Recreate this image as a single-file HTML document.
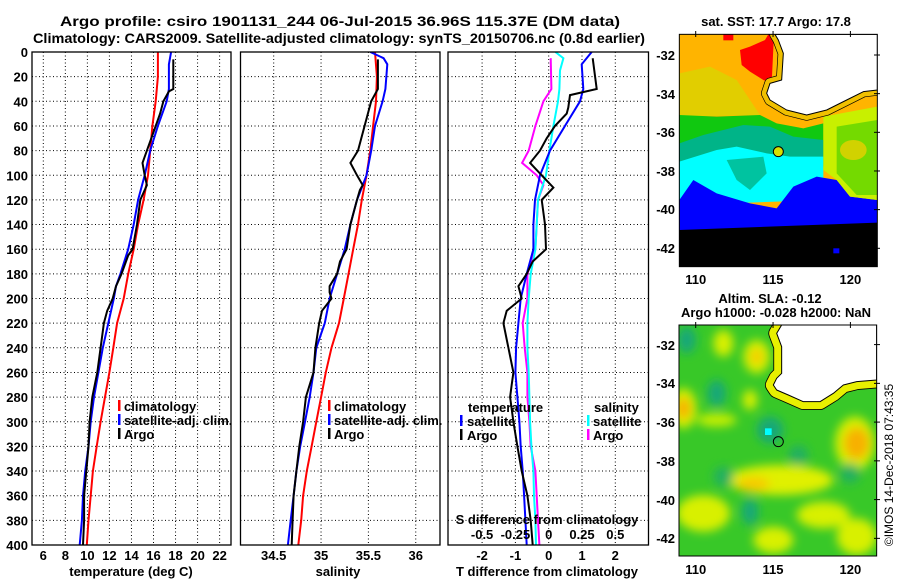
<!DOCTYPE html>
<html><head><meta charset="utf-8"><style>
html,body{margin:0;padding:0;background:#fff;}
svg{display:block;font-family:"Liberation Sans",sans-serif;font-weight:bold;}
</style></head><body>
<svg id="fig" width="900" height="580" viewBox="0 0 900 580" xmlns="http://www.w3.org/2000/svg">
<defs>
<clipPath id="c1"><rect x="32" y="52" width="199" height="493"/></clipPath>
<clipPath id="c2"><rect x="240.5" y="52" width="199.5" height="493"/></clipPath>
<clipPath id="c3"><rect x="448" y="52" width="200.5" height="493"/></clipPath>
<clipPath id="cm1"><rect x="88" y="103" width="594" height="697"/></clipPath>
<clipPath id="cm2"><rect x="27" y="15" width="593" height="693"/></clipPath>
<filter id="blur" x="-50%" y="-50%" width="200%" height="200%"><feGaussianBlur stdDeviation="14"/></filter>
</defs>
<g font-size="14" text-anchor="middle">
<text x="340" y="26" textLength="560" lengthAdjust="spacingAndGlyphs">Argo profile: csiro 1901131_244 06-Jul-2015 36.96S 115.37E (DM data)</text>
<text x="339" y="43" textLength="612" lengthAdjust="spacingAndGlyphs">Climatology: CARS2009. Satellite-adjusted climatology: synTS_20150706.nc (0.8d earlier)</text>
</g>
<g id="grids"></g>
<g id="series"></g>
<g id="frames"></g>
<g id="labels" font-size="13"></g>

<g font-size="13">
<rect x="118" y="400" width="2.5" height="11" fill="#f00"/><text x="124" y="411">climatology</text>
<rect x="118" y="414" width="2.5" height="11" fill="#00f"/><text x="124" y="425">satellite-adj. clim.</text>
<rect x="118" y="428" width="2.5" height="11" fill="#000"/><text x="124" y="439">Argo</text>
</g>
<g font-size="13">
<rect x="328" y="400" width="2.5" height="11" fill="#f00"/><text x="334" y="411">climatology</text>
<rect x="328" y="414" width="2.5" height="11" fill="#00f"/><text x="334" y="425">satellite-adj. clim.</text>
<rect x="328" y="428" width="2.5" height="11" fill="#000"/><text x="334" y="439">Argo</text>
</g>
<g font-size="13">
<text x="468" y="412">temperature</text>
<rect x="460" y="415" width="2.5" height="11" fill="#00f"/><text x="467" y="426">satellite</text>
<rect x="460" y="429" width="2.5" height="11" fill="#000"/><text x="467" y="440">Argo</text>
<text x="594" y="412">salinity</text>
<rect x="587" y="415" width="2.5" height="11" fill="#0ff"/><text x="593" y="426">satellite</text>
<rect x="587" y="429" width="2.5" height="11" fill="#f0f"/><text x="593" y="440">Argo</text>
</g>

<!-- SST map -->
<g>
<text x="776" y="26" font-size="13" text-anchor="middle">sat. SST: 17.7 Argo: 17.8</text>
<g transform="translate(650,0) scale(0.33333)">
<g clip-path="url(#cm1)">
<rect x="88" y="103" width="594" height="697" fill="#ffb400"/>
<polygon points="88,220 180,200 260,240 300,300 330,345 88,350" fill="#c8e400" opacity="0.55"/>
<polygon points="270,150 300,140 345,120 355,103 372,103 365,250 340,240 300,215 275,195" fill="#ff0000"/>
<rect x="220" y="103" width="30" height="18" fill="#ff0000"/>
<polygon points="88,345 200,350 330,345 380,370 460,385 520,370 520,470 88,480" fill="#10c810"/>
<polygon points="88,430 160,405 280,375 360,380 430,410 520,420 520,500 88,490" fill="#00b488"/>
<polygon points="88,485 200,450 260,440 350,460 420,470 520,470 520,600 88,615" fill="#00ffff"/>
<polygon points="230,480 340,470 350,520 300,570 260,540" fill="#00b488" opacity="0.8"/>
<polygon points="88,600 130,540 200,580 300,610 380,625 430,560 500,530 560,540 600,590 682,600 682,700 88,700" fill="#0000ff"/>
<polygon points="520,350 682,320 682,600 600,590 560,540 520,510" fill="#c8f000"/>
<polygon points="560,380 682,360 682,585 620,585 560,520" fill="#30c800" opacity="0.55"/>
<ellipse cx="610" cy="450" rx="40" ry="30" fill="#e8d000" opacity="0.8"/>
<polygon points="88,690 682,668 682,800 88,800" fill="#000"/>
<rect x="550" y="745" width="18" height="15" fill="#0000ff"/>
<polygon points="375,103 682,103 682,270 640,275 590,300 530,330 470,345 410,330 360,300 350,280 360,250 395,240 400,160 385,120" fill="none" stroke="#000" stroke-width="34" stroke-linejoin="round"/>
<polygon points="375,103 682,103 682,270 640,275 590,300 530,330 470,345 410,330 360,300 350,280 360,250 395,240 400,160 385,120" fill="#fff" stroke="#f0c000" stroke-width="30" stroke-linejoin="round"/>
<polygon points="375,103 682,103 682,270 640,275 590,300 530,330 470,345 410,330 360,300 350,280 360,250 395,240 400,160 385,120" fill="#fff" stroke="#000" stroke-width="3" stroke-linejoin="round"/>
<circle cx="385" cy="455" r="15" fill="#d8e000" stroke="#000" stroke-width="3"/>
</g>
<rect x="88" y="103" width="594" height="697" fill="none" stroke="#000" stroke-width="3"/>
</g>
</g>

<!-- SLA map -->
<g>
<text x="770" y="303" font-size="13" text-anchor="middle">Altim. SLA: -0.12</text>
<text x="776" y="317" font-size="13" text-anchor="middle">Argo h1000: -0.028 h2000: NaN</text>
<g transform="translate(670,320) scale(0.33333)">
<g clip-path="url(#cm2)">
<rect x="27" y="15" width="593" height="693" fill="#38c828"/>
<g filter="url(#blur)">
<ellipse cx="160" cy="70" rx="30" ry="40" fill="#d8f000"/>
<ellipse cx="260" cy="110" rx="40" ry="50" fill="#d8f000"/>
<ellipse cx="260" cy="110" rx="18" ry="22" fill="#f8c800"/>
<ellipse cx="240" cy="240" rx="22" ry="30" fill="#d8f000"/>
<ellipse cx="40" cy="265" rx="40" ry="60" fill="#d8f000"/>
<ellipse cx="40" cy="265" rx="22" ry="32" fill="#f8b000"/>
<ellipse cx="140" cy="300" rx="60" ry="20" fill="#c8f000"/>
<ellipse cx="555" cy="370" rx="60" ry="80" fill="#d8f000"/>
<ellipse cx="560" cy="370" rx="38" ry="48" fill="#f8b000"/>
<ellipse cx="330" cy="480" rx="160" ry="45" fill="#e0f000"/>
<ellipse cx="250" cy="492" rx="50" ry="20" fill="#f8c800"/>
<ellipse cx="100" cy="580" rx="80" ry="55" fill="#d8f000"/>
<ellipse cx="460" cy="585" rx="80" ry="40" fill="#d8f000"/>
<ellipse cx="560" cy="650" rx="60" ry="55" fill="#d8f000"/>
<ellipse cx="310" cy="660" rx="60" ry="40" fill="#d8f000"/>
<ellipse cx="50" cy="60" rx="28" ry="40" fill="#18a878"/>
<ellipse cx="140" cy="220" rx="28" ry="40" fill="#18a878"/>
<ellipse cx="300" cy="330" rx="40" ry="40" fill="#18a878"/>
<ellipse cx="240" cy="575" rx="25" ry="40" fill="#18a878"/>
<ellipse cx="385" cy="405" rx="30" ry="30" fill="#20b060"/>
<ellipse cx="540" cy="460" rx="30" ry="30" fill="#20b060"/>
<ellipse cx="160" cy="470" rx="30" ry="30" fill="#20b060"/>
</g>
<rect x="285" y="325" width="20" height="20" fill="#00ffff"/>
<polygon points="335,15 620,15 620,180 560,185 520,195 490,220 450,245 400,245 355,225 320,210 310,195 320,175 335,160 335,80 320,40" fill="none" stroke="#000" stroke-width="50" stroke-linejoin="round"/>
<polygon points="335,15 620,15 620,180 560,185 520,195 490,220 450,245 400,245 355,225 320,210 310,195 320,175 335,160 335,80 320,40" fill="#fff" stroke="#e8f000" stroke-width="45" stroke-linejoin="round"/>
<polygon points="335,15 620,15 620,180 560,185 520,195 490,220 450,245 400,245 355,225 320,210 310,195 320,175 335,160 335,80 320,40" fill="#fff" stroke="#000" stroke-width="3" stroke-linejoin="round"/>
<circle cx="325" cy="365" r="15" fill="none" stroke="#000" stroke-width="3"/>
</g>
<rect x="27" y="15" width="593" height="693" fill="none" stroke="#000" stroke-width="3"/>
</g>
</g>
<g font-size="13" text-anchor="end">
<text x="675" y="60">-32</text><text x="675" y="99">-34</text><text x="675" y="137">-36</text>
<text x="675" y="176">-38</text><text x="675" y="214">-40</text><text x="675" y="253">-42</text>
</g>
<g font-size="13" text-anchor="end">
<text x="675" y="350">-32</text><text x="675" y="388">-34</text><text x="675" y="427">-36</text>
<text x="675" y="466">-38</text><text x="675" y="505">-40</text><text x="675" y="543">-42</text>
</g>
<g id="maplabels" font-size="13"></g>
<text transform="translate(893,465) rotate(-90)" font-size="12" font-weight="normal" text-anchor="middle">©IMOS 14-Dec-2018 07:43:35</text>
</svg>
<script>
// ---- chart data ----
var depthTicks = [0,20,40,60,80,100,120,140,160,180,200,220,240,260,280,300,320,340,360,380,400];
var tempTicks = [6,8,10,12,14,16,18,20,22];
var salTicks = [34.5,35,35.5,36];
var salTickLabels = ["34.5","35","35.5","36"];
var dTTicks = [-2,-1,0,1,2];
var dSTicks = [-0.5,-0.25,0,0.25,0.5];
var dSTickLabels = ["-0.5","-0.25","0","0.25","0.5"];

var tClimDepth = [0,20,40,60,80,100,120,140,160,180,200,220,240,260,280,300,320,340,360,380,400];
var tClim = [16.4,16.4,16.2,15.9,15.7,15.5,15.1,14.6,14.2,13.7,13.3,12.7,12.35,12.0,11.6,11.2,10.85,10.5,10.3,10.1,9.95];
var tSatDepth = [0,10,30,40,60,80,100,120,140,160,180,190,200,220,240,260,280,300,320,340,360,380,400];
var tSat = [17.6,17.4,17.4,17.2,16.4,15.7,15.2,14.6,14.2,13.7,13.0,12.6,12.4,11.9,11.4,11.0,10.6,10.3,10.1,9.8,9.6,9.5,9.3];
var tArgoDepth = [6,30,32,40,50,70,80,90,100,108,120,140,160,165,180,190,200,210,220,240,260,280,300,320,340,360,380,400];
var tArgo = [17.8,17.8,17.4,16.9,16.6,15.8,15.4,15.0,15.2,15.4,14.8,14.5,14.1,13.7,13.1,12.6,12.3,11.8,11.5,11.2,10.9,10.45,10.2,10.1,9.9,9.7,9.7,9.6];

var sClimDepth = [0,20,40,60,80,100,120,140,160,180,200,220,240,260,280,300,320,340,360,380,400];
var sClim = [35.57,35.59,35.58,35.55,35.52,35.48,35.43,35.39,35.34,35.29,35.24,35.19,35.11,35.05,35.0,34.95,34.9,34.85,34.81,34.79,34.76];
var sSatDepth = [0,5,10,30,40,60,80,100,110,120,140,160,180,200,220,240,260,280,300,320,340,360,380,400];
var sSat = [35.52,35.66,35.70,35.68,35.65,35.57,35.53,35.48,35.43,35.38,35.31,35.25,35.17,35.09,35.04,34.95,34.92,34.88,34.83,34.78,34.74,34.71,34.68,34.65];
var sArgoDepth = [6,30,40,60,80,90,100,108,112,120,140,160,170,180,190,195,200,210,220,240,260,270,280,300,320,340,360,380,400];
var sArgo = [35.60,35.60,35.53,35.46,35.39,35.31,35.38,35.44,35.41,35.38,35.31,35.27,35.2,35.17,35.09,35.09,35.11,35.01,34.98,34.94,34.92,34.88,34.84,34.81,34.77,34.74,34.71,34.70,34.69];

var dTSatDepth = [0,10,30,40,60,80,100,120,140,160,180,200,220,240,260,280,300,320,340,360,380,400];
var dTSat = [1.29,0.99,1.04,0.94,0.49,0.04,-0.26,-0.41,-0.46,-0.46,-0.66,-0.84,-0.91,-0.98,-1.0,-0.94,-0.88,-0.84,-0.78,-0.74,-0.70,-0.66];
var dTArgoDepth = [5,30,35,45,50,60,70,80,90,100,110,120,140,160,170,180,190,200,210,220,240,260,270,280,300,320,340,360,380,400];
var dTArgo = [1.32,1.44,0.64,0.59,0.54,0.19,-0.06,-0.26,-0.56,-0.21,0.14,-0.21,-0.11,-0.08,-0.48,-0.66,-0.91,-0.81,-1.26,-1.36,-1.21,-1.06,-1.11,-1.16,-1.06,-0.94,-0.81,-0.64,-0.54,-0.48];
var dSSatDepth = [0,5,15,30,40,60,80,100,120,140,160,180,200,220,240,260,280,300,320,340,360,380,400];
var dSSat = [0.05,0.11,0.085,0.08,0.07,0.035,0.005,-0.02,-0.08,-0.09,-0.10,-0.135,-0.15,-0.16,-0.16,-0.15,-0.145,-0.14,-0.13,-0.115,-0.11,-0.10,-0.095];
var dSArgoDepth = [5,30,40,60,80,90,100,108,120,140,160,180,200,220,240,260,280,300,320,340,360,380,400];
var dSArgo = [0.015,0.02,-0.04,-0.10,-0.15,-0.20,-0.09,-0.04,-0.08,-0.09,-0.10,-0.16,-0.16,-0.195,-0.18,-0.16,-0.16,-0.145,-0.135,-0.10,-0.09,-0.08,-0.07];

var latTicks = [-32,-34,-36,-38,-40,-42];
var lonTicks = [110,115,120];

// ---- scales ----
var NS = "http://www.w3.org/2000/svg";
function yD(d){ return 52 + d*1.2325; }
function xT(t){ return 43.3 + (t-6)*11.02; }
function xS(s){ return 273.7 + (s-34.5)*94.7; }
function xDT(t){ return 548.7 + t*33.3; }
function xDS(s){ return 548.7 + s*133.2; }
function mk(tag, parent){ var e=document.createElementNS(NS,tag); document.getElementById(parent).appendChild(e); return e; }

var panels = [[32,231,"c1"],[240.5,440,"c2"],[448,648.5,"c3"]];
depthTicks.forEach(function(d){
  if(d===0||d===400) return;
  panels.forEach(function(p){
    var l=mk("line","grids");
    
    
    l.setAttribute("x1",p[0]); l.setAttribute("x2",p[1]); l.setAttribute("y1",yD(d)); l.setAttribute("y2",yD(d));
    l.setAttribute("stroke","#000"); l.setAttribute("stroke-dasharray","1,2.5");
  });
});
function vgrid(x){
  var l=mk("line","grids");
  
  
  l.setAttribute("x1",x); l.setAttribute("x2",x); l.setAttribute("y1",52); l.setAttribute("y2",545);
  l.setAttribute("stroke","#000"); l.setAttribute("stroke-dasharray","1,2.5");
}
tempTicks.forEach(function(t){ vgrid(xT(t)); });
salTicks.forEach(function(s){ vgrid(xS(s)); });
dTTicks.forEach(function(t){ vgrid(xDT(t)); });

function series(depths, vals, xf, color, clip, name){
  var pts = depths.map(function(d,i){ return xf(vals[i]).toFixed(1)+","+yD(d).toFixed(1); }).join(" ");
  var pl=mk("polyline","series");
  
  
  pl.setAttribute("points",pts); pl.setAttribute("fill","none"); pl.setAttribute("stroke",color);
  pl.setAttribute("stroke-width","2"); pl.setAttribute("clip-path","url(#"+clip+")");
}
series(tClimDepth,tClim,xT,"#f00","c1","temperature-climatology-line");
series(tSatDepth,tSat,xT,"#00f","c1","temperature-satellite-line");
series(tArgoDepth,tArgo,xT,"#000","c1","temperature-argo-line");
series(sClimDepth,sClim,xS,"#f00","c2","salinity-climatology-line");
series(sSatDepth,sSat,xS,"#00f","c2","salinity-satellite-line");
series(sArgoDepth,sArgo,xS,"#000","c2","salinity-argo-line");
series(dSArgoDepth,dSArgo,xDS,"#f0f","c3","salinity-diff-argo-line");
series(dSSatDepth,dSSat,xDS,"#0ff","c3","salinity-diff-satellite-line");
series(dTSatDepth,dTSat,xDT,"#00f","c3","temperature-diff-satellite-line");
series(dTArgoDepth,dTArgo,xDT,"#000","c3","temperature-diff-argo-line");

panels.forEach(function(p){
  var r=mk("rect","frames");
  
  
  r.setAttribute("x",p[0]); r.setAttribute("y",52); r.setAttribute("width",p[1]-p[0]); r.setAttribute("height",493);
  r.setAttribute("fill","none"); r.setAttribute("stroke","#000"); r.setAttribute("stroke-width","1.3");
});

function txt(parent,x,y,s,anchor,name){
  var t=mk("text",parent);
  
  
  t.setAttribute("x",x); t.setAttribute("y",y); t.setAttribute("text-anchor",anchor||"middle"); t.textContent=s;
  return t;
}
depthTicks.forEach(function(d){ txt("labels",28,yD(d)+5,String(d),"end","depth-tick-label"); });
tempTicks.forEach(function(t){ txt("labels",xT(t),560,String(t),"middle","temperature-tick-label"); });
salTicks.forEach(function(s,i){ txt("labels",xS(s),560,salTickLabels[i],"middle","salinity-tick-label"); });
dTTicks.forEach(function(t){ txt("labels",xDT(t),560,String(t),"middle","tdiff-tick-label"); });
dSTicks.forEach(function(s,i){ txt("labels",xDS(s),539,dSTickLabels[i],"middle","sdiff-tick-label"); });
txt("labels",131,576,"temperature (deg C)","middle","temperature-axis-title");
txt("labels",338,576,"salinity","middle","salinity-axis-title");
txt("labels",547,576,"T difference from climatology","middle","tdiff-axis-title");
txt("labels",547,524,"S difference from climatology","middle","sdiff-axis-title");

function latY1(l){ return 55 + (-32-l)*19.33; }
function latY2(l){ return 344.6 + (-32-l)*19.375; }
function lonX(l){ return 695.7 + (l-110)*15.47; }
latTicks.forEach(function(l){
  [latY1(l),latY2(l)].forEach(function(y){
    var tk=mk("line","maplabels");
    
    
    tk.setAttribute("x1",874); tk.setAttribute("x2",880); tk.setAttribute("y1",y); tk.setAttribute("y2",y); tk.setAttribute("stroke","#000");
  });
});
lonTicks.forEach(function(l){
  txt("maplabels",lonX(l),284,String(l),"middle","sst-lon-label");
  txt("maplabels",lonX(l),574,String(l),"middle","sla-lon-label");
  [[31,37],[322,328]].forEach(function(yy){
    var tk=mk("line","maplabels");
    
    
    tk.setAttribute("x1",lonX(l)); tk.setAttribute("x2",lonX(l)); tk.setAttribute("y1",yy[0]); tk.setAttribute("y2",yy[1]); tk.setAttribute("stroke","#000");
  });
});
</script>
</body></html>
